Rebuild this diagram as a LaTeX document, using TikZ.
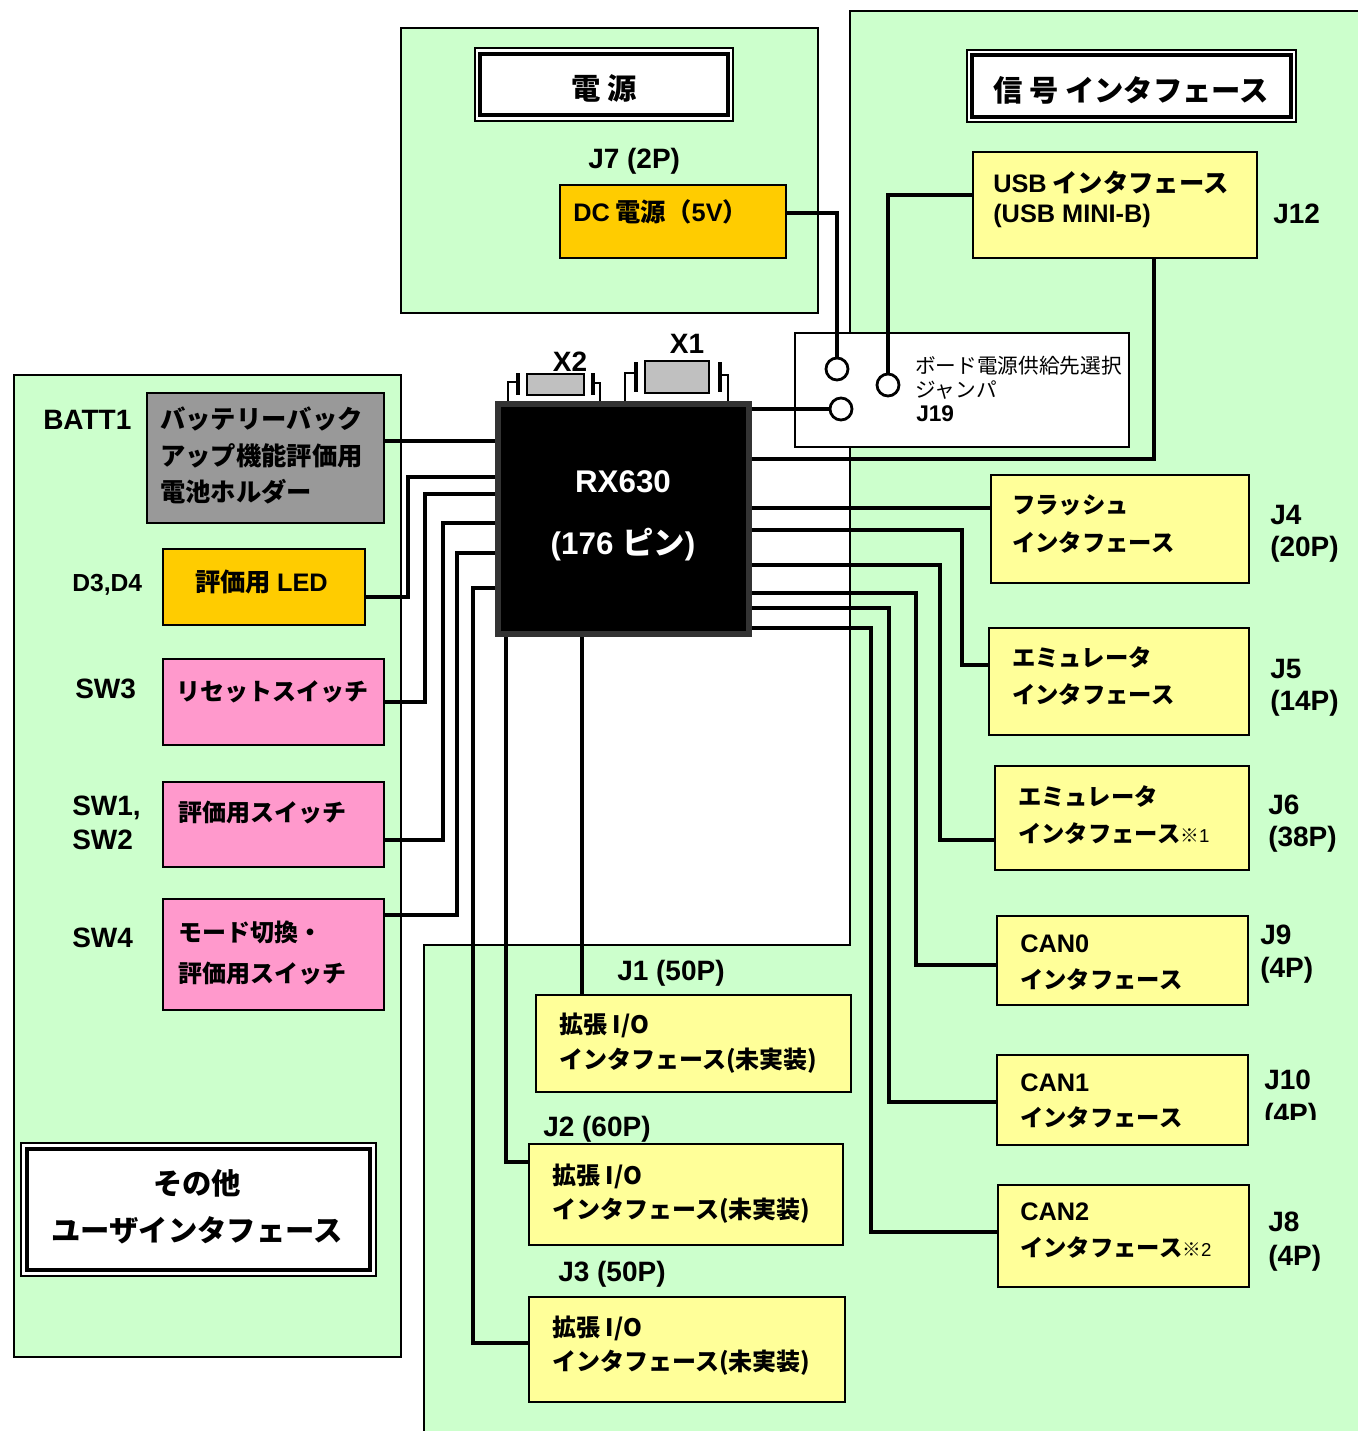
\documentclass[tikz,border=0pt]{standalone}
\usepackage{fontspec}
\setmainfont{Liberation Sans}
\newfontfamily\jp{Noto Sans CJK JP}
\newfontfamily\lat{Liberation Sans}
\definecolor{rgreen}{HTML}{CCFFCC}
\definecolor{lyel}{HTML}{FFFF99}
\definecolor{orng}{HTML}{FFCC00}
\definecolor{pnk}{HTML}{FF99CC}
\definecolor{battg}{HTML}{999999}
\definecolor{xtalg}{HTML}{C0C0C0}
\definecolor{chipb}{HTML}{333333}
\newcommand\mkbox[6]{\node[outer sep=0pt, inner sep=0pt, anchor=north west, #2, minimum width={(#5-#3)*0.75pt}, minimum height={(#6-#4)*0.75pt}] (#1) at (#3,#4) {};}
\tikzset{
  region/.style={fill=rgreen, draw=black, line width=1.5pt},
  bx/.style={draw=black, line width=2.2pt},
  ybox/.style={bx, fill=lyel},
  obox/.style={bx, fill=orng},
  pbox/.style={bx, fill=pnk},
  gbox/.style={bx, fill=battg},
  tbox/.style={draw=black, fill=white, line width=1.4pt},
  wire/.style={draw=black, line width=3.2pt},
  wire2/.style={draw=black, line width=2.4pt},
  leg/.style={draw=black, line width=2.2pt},
  bar/.style={draw=black, line width=3.2pt},
  jmp/.style={circle, draw=black, fill=white, line width=2.1pt, minimum size=16.5pt, inner sep=0pt},
  lbl/.style={font=\lat\bfseries\fontsize{21}{25}\selectfont, anchor=west, inner sep=0pt},
  jt/.style={font=\jp\bfseries\fontsize{18}{22}\selectfont, anchor=west, inner sep=0pt},
  jtl/.style={font=\jp\bfseries\fontsize{19}{22}\selectfont, anchor=west, inner sep=0pt},
  jtr/.style={font=\jp\bfseries\fontsize{17.5}{22}\selectfont, anchor=west, inner sep=0pt},
  jtt/.style={font=\jp\bfseries\fontsize{22}{26}\selectfont, inner sep=0pt},
}
\newcommand\note[1]{{\mdseries\fontsize{14}{16}\selectfont ※{\lat #1}}}
\begin{document}
\begin{tikzpicture}[x=0.75pt,y=-0.75pt]
\useasboundingbox (0,0) rectangle (1357,1431);
% regions
\draw[region] (401,28) rectangle (818,313);
\fill[rgreen] (850,11) -- (1360,11) -- (1360,1435) -- (424,1435) -- (424,945) -- (850,945) -- cycle;
\draw[line width=1.5pt] (1360,11) -- (850,11) -- (850,945) -- (424,945) -- (424,1435);
\draw[region] (14,375) rectangle (401,1357);
% title boxes
\mkbox{pwt}{tbox}{475}{48}{733}{121}
\draw[line width=2.4pt] (480,54) rectangle (728,115);
\mkbox{sgt}{tbox}{967}{50}{1296}{122}
\draw[line width=2.4pt] (972,55) rectangle (1291,117);
\mkbox{oth}{tbox}{21}{1143}{376}{1276}
\draw[line width=2.4pt] (27,1149) rectangle (370,1270);
% jumper box
\mkbox{jb}{draw=black, fill=white, line width=1.2pt}{795}{333}{1129}{447}
% chip
\node[draw=chipb, fill=black, line width=4.5pt, anchor=north west, inner sep=0pt, minimum width=188.25pt, minimum height=172.5pt] (chip) at (495,401) {};
% crystals
\mkbox{x2}{draw=black, fill=xtalg, line width=1.5pt}{527}{374}{584}{395}
\mkbox{x1}{draw=black, fill=xtalg, line width=1.5pt}{645}{361}{709}{393}
\draw[leg] (508,0 |- chip.north) -- (508,382) -- (518,382);
\draw[bar] (518,373) -- (518,395);
\draw[bar] (593,373) -- (593,395);
\draw[leg] (593,383) -- (600,383) -- (600,0 |- chip.north);
\draw[leg] (625,0 |- chip.north) -- (625,373) -- (636,373);
\draw[bar] (636,362) -- (636,392);
\draw[bar] (720,362) -- (720,392);
\draw[leg] (720,375) -- (728,375) -- (728,0 |- chip.north);
% boxes
\mkbox{dc}{obox}{560}{185}{786}{258}
\mkbox{usb}{ybox}{973}{152}{1257}{258}
\mkbox{batt}{gbox}{147}{393}{384}{523}
\mkbox{led}{obox}{163}{549}{365}{625}
\mkbox{sw3}{pbox}{163}{659}{384}{745}
\mkbox{swa}{pbox}{163}{782}{384}{867}
\mkbox{swb}{pbox}{163}{899}{384}{1010}
\mkbox{j4}{ybox}{991}{475}{1249}{583}
\mkbox{j5}{ybox}{989}{628}{1249}{735}
\mkbox{j6}{ybox}{995}{766}{1249}{870}
\mkbox{j9}{ybox}{997}{916}{1248}{1005}
\mkbox{j10}{ybox}{997}{1055}{1248}{1145}
\mkbox{j8}{ybox}{998}{1185}{1249}{1287}
\mkbox{j1}{ybox}{536}{995}{851}{1092}
\mkbox{j2}{ybox}{529}{1144}{843}{1245}
\mkbox{j3}{ybox}{529}{1297}{845}{1402}
% jumper pins
\node[jmp] (c1) at (837,369) {};
\node[jmp] (c2) at (888,385) {};
\node[jmp] (c3) at (841,409) {};
% wires to jumper
\draw[wire2] (dc.east |- 0,213) -| (c1.north);
\draw[wire2] (usb.west |- 0,195) -| (c2.north);
\draw[wire2] (chip.east |- c3) -- (c3.west);
\draw[wire] (usb.south -| 1154,0) |- (chip.east |- 0,459);
% right wires
\draw[wire] (chip.east |- 0,508) -- (j4.west |- 0,508);
\draw[wire] (chip.east |- 0,530) -| (962,665) -- (j5.west |- 0,665);
\draw[wire] (chip.east |- 0,565) -| (940,840) -- (j6.west |- 0,840);
\draw[wire] (chip.east |- 0,593) -| (916,965) -- (j9.west |- 0,965);
\draw[wire] (chip.east |- 0,608) -| (889,1102) -- (j10.west |- 0,1102);
\draw[wire] (chip.east |- 0,628) -| (871,1232) -- (j8.west |- 0,1232);
% left wires
\draw[wire] (batt.east |- 0,441) -- (chip.west |- 0,441);
\draw[wire] (led.east |- 0,597) -| (408,477) -- (chip.west |- 0,477);
\draw[wire] (sw3.east |- 0,702) -| (425,494) -- (chip.west |- 0,494);
\draw[wire] (swa.east |- 0,840) -| (443,523) -- (chip.west |- 0,523);
\draw[wire] (swb.east |- 0,915) -| (457,553) -- (chip.west |- 0,553);
\draw[wire] (chip.west |- 0,588) -| (473,1343) -- (j3.west |- 0,1343);
% bottom wires
\draw[wire] (506,0 |- chip.south) |- (j2.west |- 0,1162);
\draw[wire] (582,0 |- chip.south) -- (582,0 |- j1.north);
% titles
\node[jtt] (pwtt) at (604,88) {電 源};
\node[jtt] (sgtt) at (1131,90) {信 号 インタフェース};
\node[jtt] (otht1) at (197,1183) {その他};
\node[jtt] (otht2) at (197,1230) {ユーザインタフェース};
% chip text
\node[font=\lat\bfseries\fontsize{23.5}{28}\selectfont, text=white, inner sep=0pt] (ct1) at (623,482) {RX630};
\node[font=\lat\bfseries\fontsize{23.5}{28}\selectfont, text=white, inner sep=0pt] (ct2) at (623,545) {(176 {\jp ピン})};
\node[font=\lat\bfseries\fontsize{21}{25}\selectfont, inner sep=0pt] (x2l) at (570,362) {X2};
\node[font=\lat\bfseries\fontsize{21}{25}\selectfont, inner sep=0pt] (x1l) at (687,344) {X1};
% jumper text
\node[font=\jp\fontsize{15.5}{18}\selectfont, anchor=west, inner sep=0pt] (jbt1) at (915,366) {ボード電源供給先選択};
\node[font=\jp\fontsize{15.5}{18}\selectfont, anchor=west, inner sep=0pt] (jbt2) at (915,390) {ジャンパ};
\node[font=\lat\bfseries\fontsize{17}{20}\selectfont, anchor=west, inner sep=0pt] (jbt3) at (916,414) {J19};
% power box text
\node[lbl] (j7l) at (588,161) {J7 (2P)};
\node[jtl] (dct) at (573,212) {{\lat DC} 電源（{\lat 5V}）};
% usb text
\node[jtl] (usbt1) at (993,183) {{\lat USB} インタフェース};
\node[lbl, font=\lat\bfseries\fontsize{19}{22}\selectfont] (usbt2) at (993,216) {(USB MINI-B)};
\node[lbl] (j12l) at (1273,214) {J12};
% left texts
\node[jtl] (batt1) at (160,419) {バッテリーバック};
\node[jtl] (batt2) at (160,456) {アップ機能評価用};
\node[jtl] (batt3) at (160,492) {電池ホルダー};
\node[lbl] (battl) at (43,420) {BATT1};
\node[jtl] (ledt) at (195,582) {評価用 {\lat LED}};
\node[lbl, font=\lat\bfseries\fontsize{18.5}{22}\selectfont] (ledl) at (72,585) {D3,D4};
\node[jt] (sw3t) at (176,692) {リセットスイッチ};
\node[lbl] (sw3l) at (75,689) {SW3};
\node[jt] (swat) at (178,813) {評価用スイッチ};
\node[lbl] (swal1) at (72,808) {SW1,};
\node[lbl] (swal2) at (72,840) {SW2};
\node[jt] (swbt1) at (178,932) {モード切換・};
\node[jt] (swbt2) at (178,973) {評価用スイッチ};
\node[lbl] (swbl) at (72,938) {SW4};
% right texts
\node[jtr] (j4t1) at (1012,505) {フラッシュ};
\node[jtr] (j4t2) at (1012,542) {インタフェース};
\node[lbl] (j4l1) at (1270,515) {J4};
\node[lbl] (j4l2) at (1270,549) {(20P)};
\node[jtr] (j5t1) at (1012,657) {エミュレータ};
\node[jtr] (j5t2) at (1012,694) {インタフェース};
\node[lbl] (j5l1) at (1270,669) {J5};
\node[lbl] (j5l2) at (1270,703) {(14P)};
\node[jtr] (j6t1) at (1018,796) {エミュレータ};
\node[jtr] (j6t2) at (1018,833) {インタフェース\note{1}};
\node[lbl] (j6l1) at (1268,805) {J6};
\node[lbl] (j6l2) at (1268,839) {(38P)};
\node[jtr, font=\lat\bfseries\fontsize{19}{22}\selectfont] (j9t1) at (1020,944) {CAN0};
\node[jtr] (j9t2) at (1020,979) {インタフェース};
\node[lbl] (j9l1) at (1260,935) {J9};
\node[lbl] (j9l2) at (1260,970) {(4P)};
\node[jtr, font=\lat\bfseries\fontsize{19}{22}\selectfont] (j10t1) at (1020,1083) {CAN1};
\node[jtr] (j10t2) at (1020,1117) {インタフェース};
\node[lbl] (j10l1) at (1264,1080) {J10};
\begin{scope}
\clip (1250,1092) rectangle (1357,1119);
\node[lbl] (j10l2) at (1264,1116) {(4P)};
\end{scope}
\node[jtr, font=\lat\bfseries\fontsize{19}{22}\selectfont] (j8t1) at (1020,1212) {CAN2};
\node[jtr] (j8t2) at (1020,1247) {インタフェース\note{2}};
\node[lbl] (j8l1) at (1268,1222) {J8};
\node[lbl] (j8l2) at (1268,1258) {(4P)};
% bottom texts
\node[lbl] (j1l) at (617,973) {J1 (50P)};
\node[jt] (j1t1) at (559,1025) {拡張 I/O};
\node[jt] (j1t2) at (559,1061) {インタフェース(未実装)};
\node[lbl] (j2l) at (543,1129) {J2 (60P)};
\node[jt] (j2t1) at (552,1176) {拡張 I/O};
\node[jt] (j2t2) at (552,1211) {インタフェース(未実装)};
\node[lbl] (j3l) at (558,1274) {J3 (50P)};
\node[jt] (j3t1) at (552,1328) {拡張 I/O};
\node[jt] (j3t2) at (552,1363) {インタフェース(未実装)};
\end{tikzpicture}
\end{document}
